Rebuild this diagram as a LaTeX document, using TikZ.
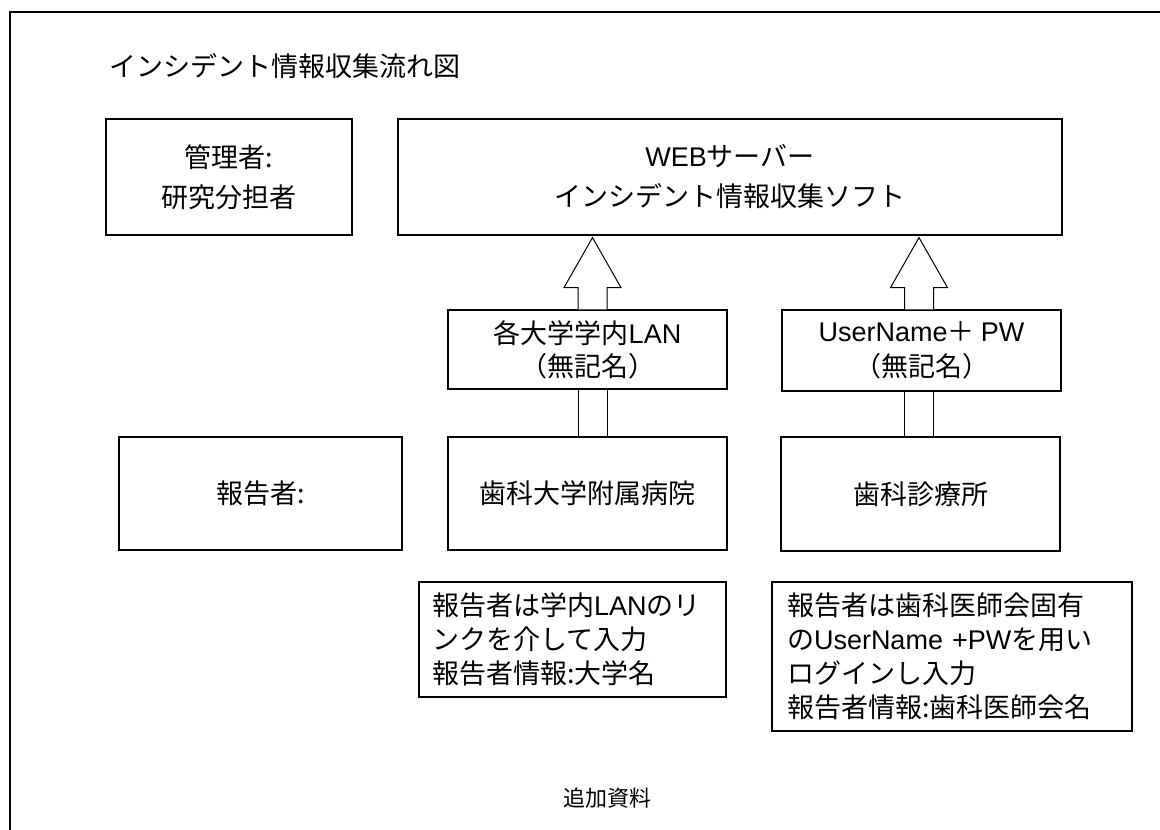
\documentclass[tikz,border=0pt]{standalone}
\usepackage{fontspec}
\setmainfont{Noto Sans CJK JP}
\newfontfamily\lat{Liberation Sans}
\usetikzlibrary{calc}
\tikzset{
  box/.style={draw=black, line width=1.2pt, fill=white, inner sep=0pt, align=center,
    font=\fontsize{27}{40}\selectfont},
  notebox/.style={draw=black, line width=1.2pt, fill=white, inner ysep=0pt, align=left,
    font=\fontsize{27}{34}\selectfont},
  arr/.style={draw=black, line width=1pt, fill=white},
  frame/.style={draw=black, line width=1.5pt},
  plain/.style={inner sep=0pt}
}
\newcommand{\myshaft}[3]{%
  \draw[arr] let \p1=($(#1.north)+(#3,0)$), \p2=(#2.south) in
    (\x1-14.5pt,\y1) -- (\x1-14.5pt,\y2) (\x1+14.5pt,\y1) -- (\x1+14.5pt,\y2);}
\newcommand{\myheadarrow}[3]{%
  \draw[arr] let \p1=($(#1.north)+(#3,0)$), \p2=(#2.south) in
    (\x1-14.5pt,\y1) -- (\x1-14.5pt,\y2-52pt) -- (\x1-28.5pt,\y2-52pt) -- (\x1,\y2-2pt)
    -- (\x1+28.5pt,\y2-52pt) -- (\x1+14.5pt,\y2-52pt) -- (\x1+14.5pt,\y1);}
\begin{document}
\begin{tikzpicture}[x=1pt,y=-1pt]
\useasboundingbox (0,0) rectangle (1160,830);
% frame
\coordinate (fbl) at (10,830);
\coordinate (ftl) at (10,12);
\coordinate (ftr) at (1160,12);
\draw[frame] (fbl) -- (ftl) -- (ftr);
% title
\node[plain, anchor=west, font=\fontsize{27}{32}\selectfont] (title) at (109,66) {インシデント情報収集流れ図};
% top row
\node[box, minimum width=246, minimum height=116] (admin) at (229,177) {管理者:\\研究分担者};
\node[box, minimum width=664, minimum height=116] (web) at (730,177) {{\lat WEB}サーバー\\インシデント情報収集ソフト};
% bottom row
\node[box, minimum width=283, minimum height=113] (rep) at (260.5,493.5) {報告者:};
\node[box, minimum width=279, minimum height=113] (hosp) at (587.5,493.5) {歯科大学附属病院};
\node[box, minimum width=279, minimum height=114] (clinic) at (920.5,494) {歯科診療所};
% middle boxes
\node[box, minimum width=279, minimum height=79, font=\fontsize{27}{33}\selectfont] (lan) at (587.5,349.5) {各大学学内{\lat LAN}\\（無記名）};
\node[box, minimum width=279, minimum height=81, font=\fontsize{27}{35}\selectfont] (user) at (921.5,350.5) {{\lat UserName}＋ {\lat PW}\\（無記名）};
% arrows
\myshaft{hosp}{lan}{5}
\myheadarrow{lan}{web}{5}
\myshaft{clinic}{user}{-1.5}
\myheadarrow{user}{web}{-2.5}
% notes
\node[notebox, text width=281pt, inner xsep=13pt, minimum width=307, minimum height=115] (note1) at (572.5,639.5)
  {報告者は学内{\lat LAN}のリ\\ンクを介して入力\\報告者情報:大学名};
\node[notebox, text width=330pt, inner xsep=15pt, minimum width=360, minimum height=149] (note2) at (952,656.5)
  {報告者は歯科医師会固有\\の{\lat UserName~+PW}を用い\\ログインし入力\\報告者情報:歯科医師会名};
% footer
\node[plain, font=\fontsize{22}{26}\selectfont] (foot) at (607,798) {追加資料};
\end{tikzpicture}
\end{document}
